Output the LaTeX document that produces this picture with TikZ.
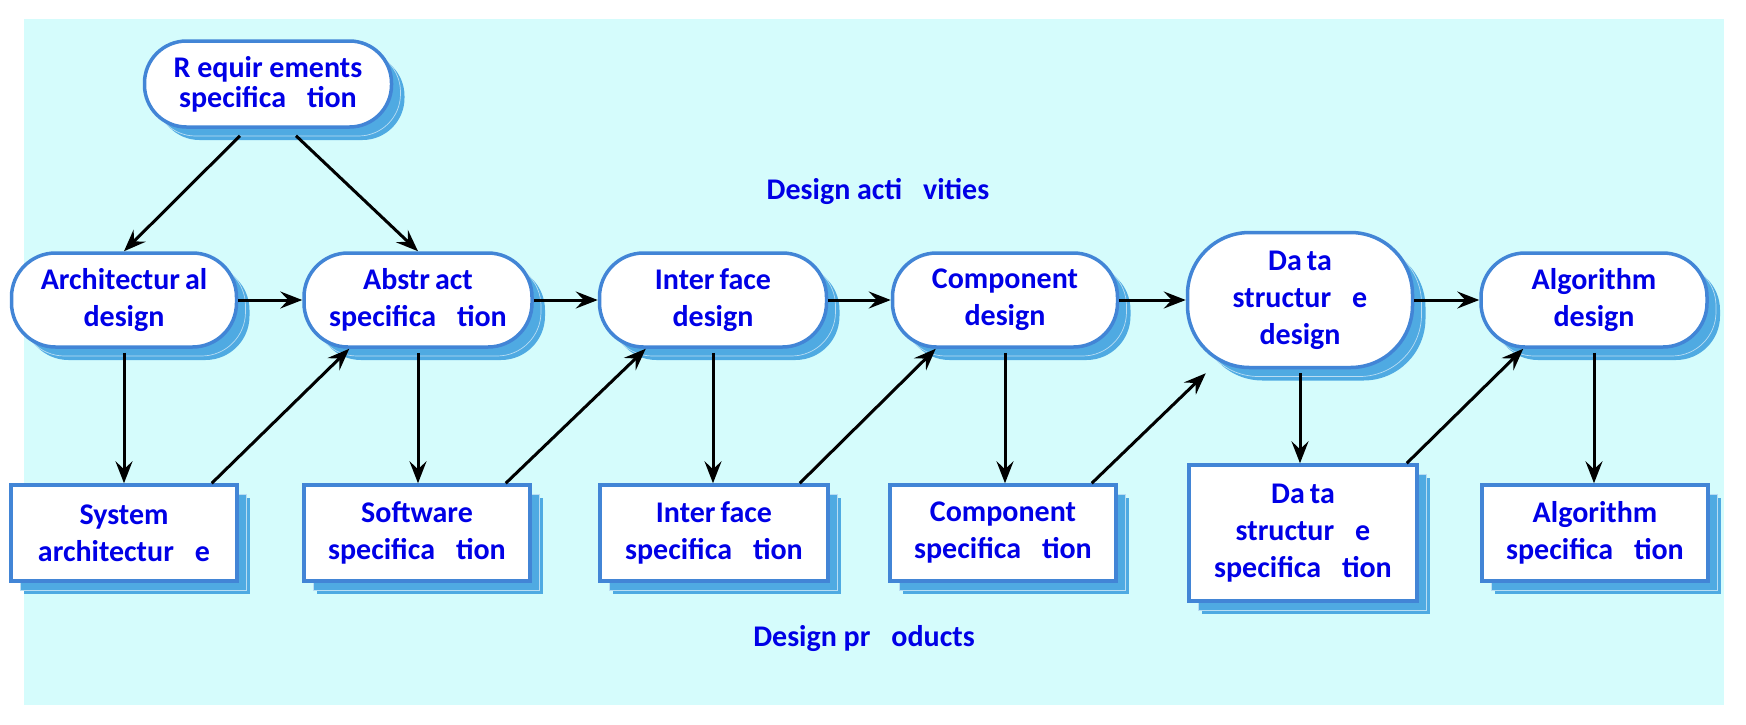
\documentclass[tikz,border=0pt]{standalone}
\usepackage{fontspec}
\setmainfont{Carlito}
\usepackage{tikz}
\usetikzlibrary{arrows.meta,shadows,calc}
\usepackage{xcolor}
\definecolor{bgcyan}{RGB}{213,252,252}
\definecolor{nodeblue}{RGB}{66,133,214}
\definecolor{shadowblue}{RGB}{79,170,226}
\definecolor{textblue}{RGB}{0,0,230}
\newcommand{\wgap}{\hspace{0.7em}}

\begin{document}
\begin{tikzpicture}[
    x=1pt, y=-1pt,
    shadowed/.style={copy shadow={shadow xshift=13pt, shadow yshift=-13pt,
                fill=shadowblue, draw=none},
                copy shadow={shadow xshift=9pt, shadow yshift=-9pt,
                fill=shadowblue, draw=shadowblue!40!white, line width=0.7pt}},
    actbox/.style={shadowed, draw=nodeblue, line width=3.5pt, fill=white,
                rounded corners=44pt, minimum width=225pt, minimum height=94pt,
                inner sep=0pt, align=center, text=textblue,
                font=\bfseries\fontsize{30}{37}\selectfont},
    prodbox/.style={shadowed, draw=nodeblue, line width=3.5pt, fill=white,
                minimum width=226pt, minimum height=96pt,
                inner sep=0pt, align=center, text=textblue,
                font=\bfseries\fontsize{30}{37}\selectfont},
    lbl/.style={text=textblue, font=\bfseries\fontsize{30}{36}\selectfont},
    arr/.style={-{Stealth[length=22pt,width=17pt,inset=8pt]}, line width=3pt, black}
]
    \useasboundingbox (0,0) rectangle (1746,724);
    \fill[bgcyan] (24,19) rectangle (1724,705);

    % activities
    \node[actbox, minimum width=247pt, minimum height=86pt, rounded corners=42pt,
          font=\bfseries\fontsize{30}{30}\selectfont] (req) at (268,84)
          {R equir ements\\specifica\wgap tion};
    \node[actbox] (arch) at (124,300) {Architectur\,al\\design};
    \node[actbox, minimum width=228pt] (abs) at (418,300) {Abstr\,act\\specifica\wgap tion};
    \node[actbox, minimum width=227pt] (intf) at (713,300) {Inter\,face\\design};
    \node[actbox] (comp) at (1005,300) {Component\\design};
    \node[actbox, minimum height=135pt, rounded corners=62pt] (data) at (1300,300)
          {Da\,ta\\structur\wgap e\\design};
    \node[actbox, minimum width=226pt] (algo) at (1594,300) {Algorithm\\design};

    % products
    \node[prodbox] (sysarch) at (124,533) {System\\architectur\wgap e};
    \node[prodbox] (softspec) at (417,533) {Software\\specifica\wgap tion};
    \node[prodbox, minimum width=228pt] (intfspec) at (714,533) {Inter\,face\\specifica\wgap tion};
    \node[prodbox] (compspec) at (1003,533) {Component\\specifica\wgap tion};
    \node[prodbox, minimum width=228pt, minimum height=136pt] (dataspec) at (1303,533)
          {Da\,ta\\structur\wgap e\\specifica\wgap tion};
    \node[prodbox] (algospec) at (1595,533) {Algorithm\\specifica\wgap tion};

    \node[lbl] (actlbl) at (878,191) {Design acti\wgap vities};
    \node[lbl] (prodlbl) at (864,639) {Design pr\wgap oducts};

    % from requirements
    \draw[arr] ([xshift=-28pt,yshift=-7pt]req.south) -- (arch.north);
    \draw[arr] ([xshift=28pt,yshift=-7pt]req.south) -- (abs.north);

    % along the top row
    \draw[arr] (arch.east) -- (abs.west);
    \draw[arr] (abs.east) -- (intf.west);
    \draw[arr] (intf.east) -- (comp.west);
    \draw[arr] (comp.east) -- (data.west);
    \draw[arr] (data.east) -- (algo.west);

    % activity to product
    \draw[arr] ([yshift=-4pt]arch.south) -- (arch.south |- sysarch.north);
    \draw[arr] ([yshift=-4pt]abs.south) -- (abs.south |- softspec.north);
    \draw[arr] ([yshift=-4pt]intf.south) -- (intf.south |- intfspec.north);
    \draw[arr] ([yshift=-4pt]comp.south) -- (comp.south |- compspec.north);
    \draw[arr] ([yshift=-4pt]data.south) -- (data.south |- dataspec.north);
    \draw[arr] ([yshift=-4pt]algo.south) -- (algo.south |- algospec.north);

    % product to next activity
    \draw[arr] ([xshift=-27pt]sysarch.north east) -- ([xshift=47pt]abs.south west);
    \draw[arr] ([xshift=-26pt]softspec.north east) -- ([xshift=48pt]intf.south west);
    \draw[arr] ([xshift=-30pt]intfspec.north east) -- ([xshift=45pt]comp.south west);
    \draw[arr] ([xshift=-26pt]compspec.north east) -- ([xshift=20pt,yshift=-4pt]data.south west);
    \draw[arr] ([xshift=-12pt]dataspec.north east) -- ([xshift=44pt]algo.south west);
\end{tikzpicture}
\end{document}
